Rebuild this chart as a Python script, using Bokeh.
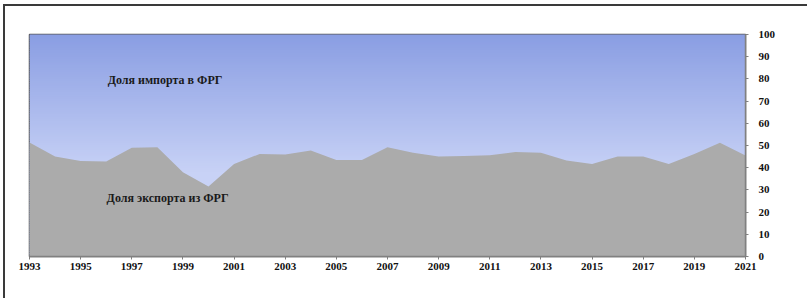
import numpy as np
from bokeh.plotting import figure
from bokeh.models import FixedTicker, Range1d
from bokeh.core.properties import value
from bokeh.embed import file_html
from bokeh.resources import INLINE

years = list(range(1993, 2022))
export_share = [51.4, 45.0, 43.0, 42.8, 49.0, 49.2, 38.0, 31.5, 41.7, 46.2,
                46.0, 47.7, 43.5, 43.5, 49.2, 46.7, 45.0, 45.3, 45.6, 47.1,
                46.7, 43.2, 41.7, 45.0, 45.0, 41.7, 46.2, 51.2, 45.5]
import_share = [100 - v for v in export_share]
x_tick_labels = [str(y) for y in range(1993, 2022, 2)]
y_ticks = list(range(0, 101, 10))
label_import = "Доля импорта в ФРГ"
label_export = "Доля экспорта из ФРГ"

serif = "Liberation Serif"

p = figure(width=804, height=294, output_backend="svg", toolbar_location=None,
           x_range=Range1d(1993, 2021), y_range=Range1d(0, 100),
           y_axis_location="right",
           min_border_left=24, min_border_top=28, min_border_bottom=44, min_border_right=64)
p.styles = {"border-top": "2px solid #3a3a3a", "border-left": "2px solid #3a3a3a",
            "margin-left": "3px", "margin-top": "4px"}

p.grid.visible = False
p.background_fill_color = "white"
p.outline_line_color = "#555555"
p.outline_line_width = 1.5

x = np.array(years, dtype=float)
exp = np.array(export_share)
top = exp + np.array(import_share)

# gradient fill behind the import area (styling bands, overlapping to avoid seams)
c_top = np.array([138, 158, 227])
c_bot = np.array([200, 210, 246])
bands = np.arange(0, 100, 1.0)
cols = []
for a in bands:
    t = min(max((100 - (a + 0.5)) / 62.0, 0), 1)
    c = (c_top + (c_bot - c_top) * t).astype(int)
    cols.append("#%02x%02x%02x" % tuple(c))
p.quad(left=years[0], right=years[-1], bottom=bands, top=bands + 1.6,
       fill_color=cols, line_color=None)

# import area (stacked on top of export) and export area
p.varea(x=x, y1=exp, y2=top, fill_alpha=0)
p.varea(x=x, y1=np.zeros_like(exp), y2=exp, fill_color="#ababab")

p.text(x=[1998.3], y=[79.5], text=[label_import], text_font=value(serif),
       text_font_style="bold", text_font_size="12px", text_align="center",
       text_baseline="middle", text_color="#1a1a1a")
p.text(x=[1998.4], y=[26.5], text=[label_export], text_font=value(serif),
       text_font_style="bold", text_font_size="12px", text_align="center",
       text_baseline="middle", text_color="#1a1a1a")

xa = p.xaxis[0]
xa.ticker = FixedTicker(ticks=[int(s) for s in x_tick_labels], minor_ticks=years)
xa.major_label_overrides = {int(s): s for s in x_tick_labels}
ya = p.yaxis[0]
ya.ticker = FixedTicker(ticks=y_ticks)
for ax in (xa, ya):
    ax.axis_line_color = "#808080"
    ax.axis_line_width = 1.5
    ax.major_tick_line_color = "#808080"
    ax.minor_tick_line_color = "#808080"
    ax.major_tick_out = 3
    ax.major_tick_in = 0
    ax.minor_tick_out = 0
    ax.minor_tick_in = 0
    ax.major_label_text_font = serif
    ax.major_label_text_font_style = "bold"
    ax.major_label_text_font_size = "11px"
    ax.major_label_text_color = "#111111"
xa.major_label_standoff = 3
ya.major_label_standoff = 10

open("out.html", "w").write(file_html(p, INLINE))
